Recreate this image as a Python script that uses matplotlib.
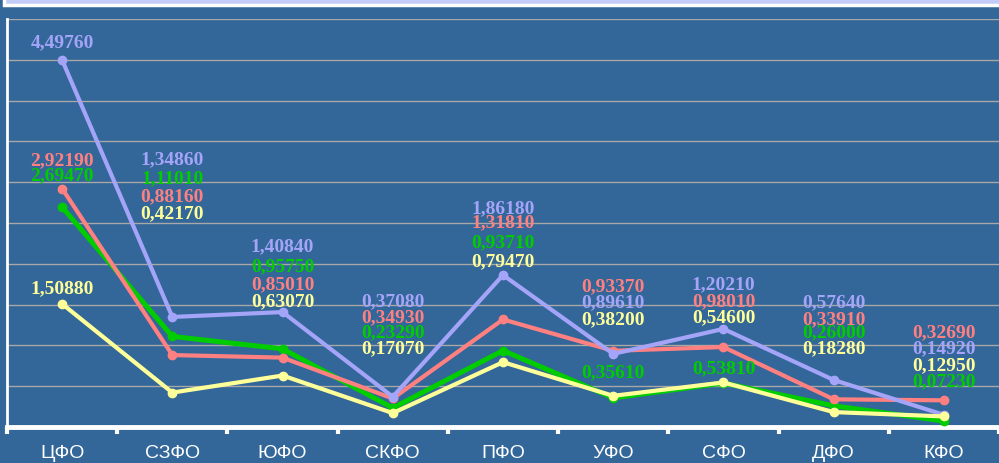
import matplotlib.pyplot as plt
from matplotlib.patches import Rectangle

districts = ["ЦФО", "СЗФО", "ЮФО", "СКФО", "ПФО", "УФО", "СФО", "ДФО", "КФО"]

lavender_vals = [4.4976, 1.3486, 1.4084, 0.3708, 1.8618, 0.8961, 1.2021, 0.5764, 0.1492]
salmon_vals = [2.9219, 0.8816, 0.8501, 0.3493, 1.3181, 0.9337, 0.9801, 0.3391, 0.3269]
green_vals = [2.6947, 1.1101, 0.9575, 0.2329, 0.9371, 0.3561, 0.5381, 0.2600, 0.0723]
yellow_vals = [1.5088, 0.4217, 0.6307, 0.1707, 0.7947, 0.3820, 0.5460, 0.1828, 0.1295]

# where each value label sits (data units), stacked above the district
lavender_lab_y = [4.71, 3.27, 2.21, 1.53, 2.68, 1.52, 1.74, 1.52, 0.96]
salmon_lab_y = [3.26, 2.82, 1.74, 1.34, 2.50, 1.72, 1.53, 1.32, 1.15]
green_lab_y = [3.08, 3.04, 1.96, 1.15, 2.26, 0.66, 0.72, 1.15, 0.55]
yellow_lab_y = [1.70, 2.61, 1.53, 0.96, 2.02, 1.32, 1.34, 0.96, 0.75]

bg = "#336699"
series = [
    (green_vals, green_lab_y, "#00CC00", 3.6),
    (salmon_vals, salmon_lab_y, "#FF8080", 3.0),
    (lavender_vals, lavender_lab_y, "#A4A4F8", 3.0),
    (yellow_vals, yellow_lab_y, "#FFFF99", 3.0),
]

fig = plt.figure(figsize=(9.99, 4.63), dpi=100, facecolor=bg)
ax = fig.add_axes([7 / 999, 36 / 463, 992 / 999, 408 / 463])
ax.set_facecolor(bg)

x = list(range(len(districts)))
for vals, lab_y, col, lw in series:
    ax.plot(x, vals, color=col, lw=lw, marker="o", ms=6, solid_joinstyle="round", zorder=3)
for vals, lab_y, col, lw in series:
    for xi, v, ly in zip(x, vals, lab_y):
        ax.text(xi, ly, f"{v:.5f}".replace(".", ","), color=col, ha="center", va="center",
                fontsize=14, fontweight="bold", family="Liberation Serif", zorder=4)

ax.set_xlim(-0.5, 8.5)
ax.set_ylim(0, 5)
ax.set_yticks([i * 0.5 for i in range(11)])
ax.yaxis.grid(True, color="#A8A8A8", lw=1)
ax.set_axisbelow(True)
ax.tick_params(axis="y", left=False, labelleft=False)
ax.set_xticks([i - 0.5 for i in range(len(districts) + 1)])
ax.set_xticks(x, minor=True)
ax.set_xticklabels([])
ax.set_xticklabels(districts, minor=True, color="white", fontsize=14, family="Liberation Sans")
ax.tick_params(axis="x", which="major", direction="out", length=5, width=3, color="white")
ax.tick_params(axis="x", which="minor", length=0, pad=13)

for side in ["top", "right"]:
    ax.spines[side].set_visible(False)
ax.spines["left"].set_color("white")
ax.spines["left"].set_linewidth(2)
ax.spines["bottom"].set_color("white")
ax.spines["bottom"].set_linewidth(3.5)

# header box peeking in at the top edge
fig.patches.append(Rectangle((4 / 999, 458 / 463), 1.0, 0.05, transform=fig.transFigure,
                             facecolor="#C4CCF8", edgecolor="white", lw=2.5))

fig.savefig("out.png", dpi=100, facecolor=bg)
